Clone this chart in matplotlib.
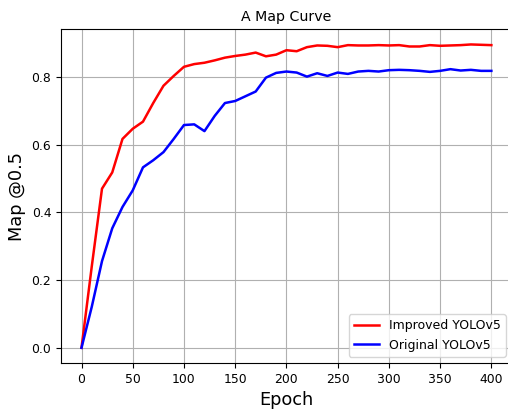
import matplotlib
matplotlib.use("Agg")
import matplotlib.pyplot as plt

epochs = list(range(0, 401, 10))
improved = [0.0, 0.24, 0.47, 0.518, 0.617, 0.647, 0.668, 0.723, 0.774, 0.803,
            0.830, 0.838, 0.842, 0.849, 0.857, 0.862, 0.866, 0.872, 0.861, 0.866,
            0.879, 0.876, 0.888, 0.893, 0.892, 0.888, 0.894, 0.893, 0.893, 0.894,
            0.893, 0.894, 0.890, 0.890, 0.894, 0.892, 0.893, 0.894, 0.896, 0.895,
            0.894]
original = [0.0, 0.121, 0.256, 0.353, 0.416, 0.465, 0.533, 0.554, 0.578, 0.617,
            0.658, 0.660, 0.640, 0.685, 0.723, 0.729, 0.743, 0.757, 0.798, 0.812,
            0.816, 0.813, 0.801, 0.811, 0.803, 0.813, 0.809, 0.816, 0.818, 0.816,
            0.820, 0.821, 0.820, 0.818, 0.815, 0.818, 0.823, 0.819, 0.821, 0.818,
            0.818]
xticks = list(range(0, 401, 50))
yticks = [0.0, 0.2, 0.4, 0.6, 0.8]

fig = plt.figure(figsize=(5.08, 4.09), dpi=100)
ax = fig.add_axes([0.1201, 0.1125, 0.8875, 0.8159])
ax.plot(epochs, improved, color="red", lw=1.8, label="Improved YOLOv5")
ax.plot(epochs, original, color="blue", lw=1.8, label="Original YOLOv5")
ax.set_xticks(xticks)
ax.set_yticks(yticks)
ax.tick_params(labelsize=8.9)
ax.grid(True, color="#b0b0b0", lw=0.8)
ax.set_title("A Map Curve", fontsize=10.2)
ax.set_xlabel("Epoch", fontsize=12.8)
ax.set_ylabel("Map @0.5", fontsize=12.8)
ax.legend(loc="lower right", fontsize=9)
fig.savefig("out.png", dpi=100)
